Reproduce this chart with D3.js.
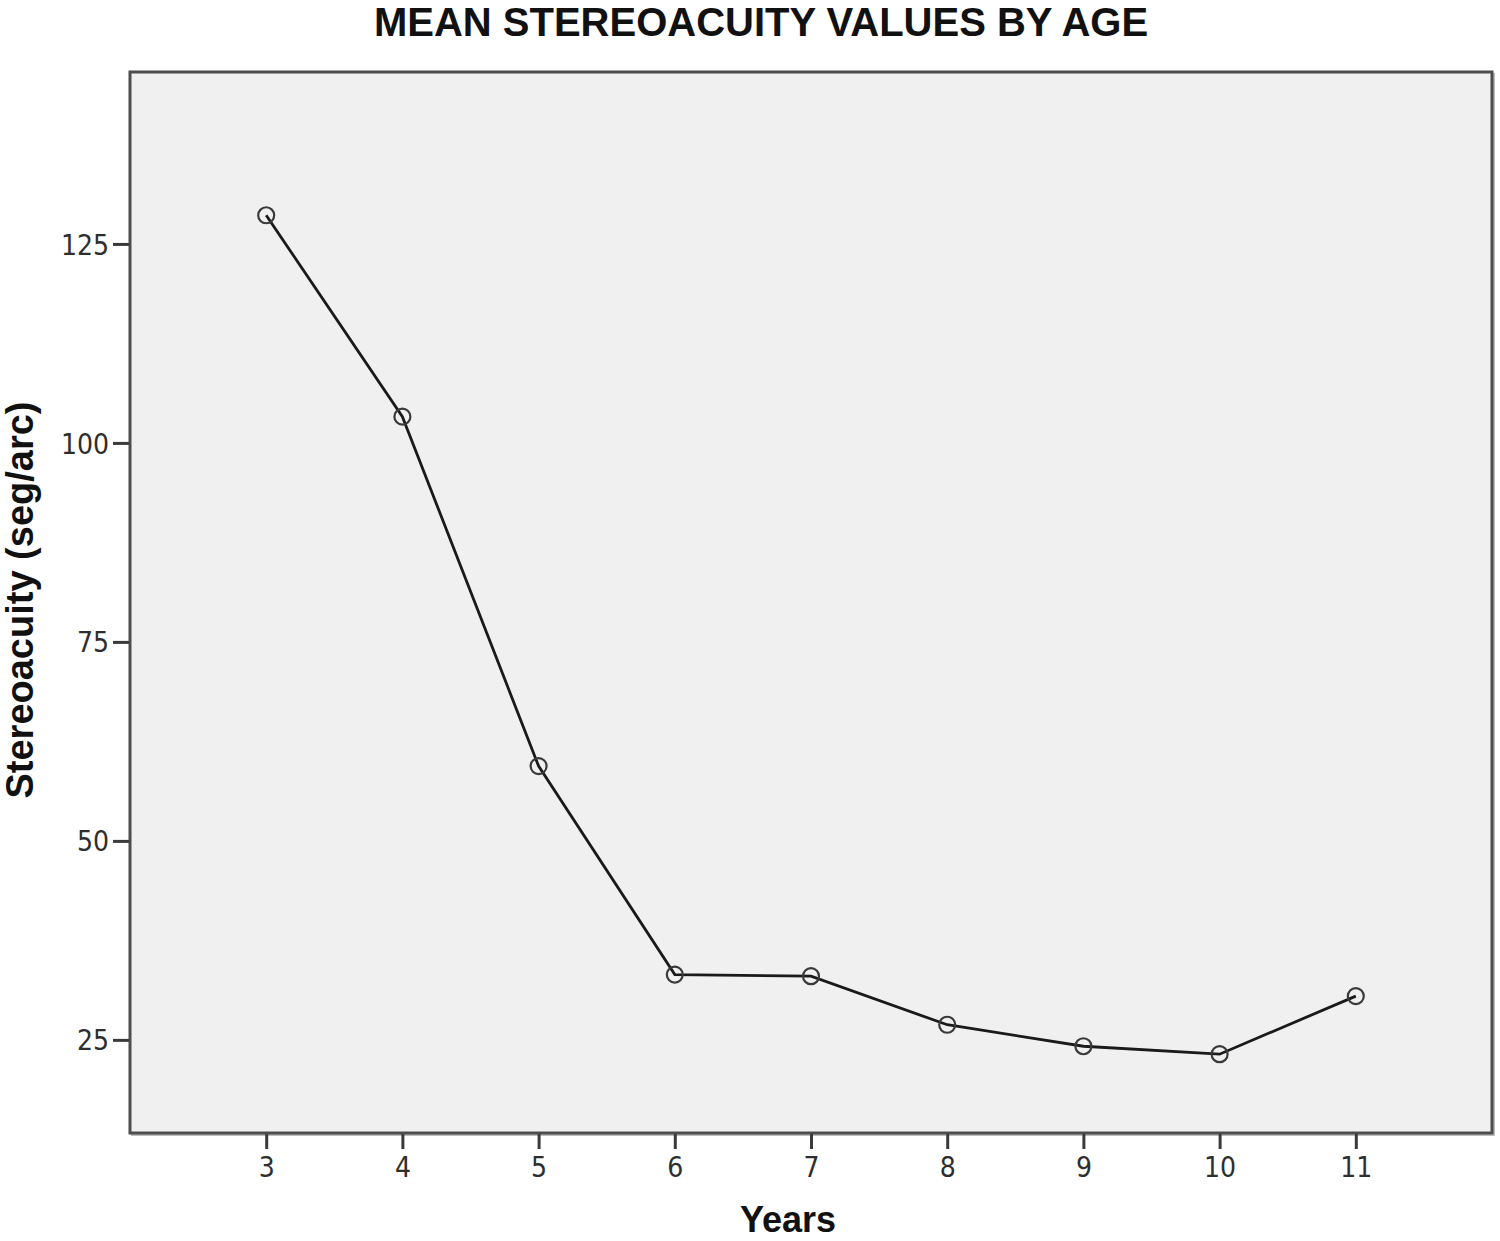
<!DOCTYPE html>
<html>
<head>
<meta charset="utf-8">
<script src="https://cdn.jsdelivr.net/npm/d3@7"></script>
<style>
  body { margin: 0; background: #fff; }
  svg { display: block; }
</style>
</head>
<body>
<div id="chart"></div>
<script>
// mean stereoacuity by age
var ages = [3, 4, 5, 6, 7, 8, 9, 10, 11];
var stereo = [128.6, 103.3, 59.4, 33.2, 33.0, 26.9, 24.2, 23.2, 30.5];
var yTicks = [25, 50, 75, 100, 125];

var width = 1500, height = 1241;
var frame = { left: 130, right: 1492, top: 72, bottom: 1133 };

var svg = d3.select("#chart").append("svg")
  .attr("width", width)
  .attr("height", height);

var x = d3.scaleLinear().domain([2, 12]).range([frame.left, frame.right]);
var y = d3.scaleLinear().domain([13.3, 146.6]).range([frame.bottom, frame.top]);

// plot area
svg.append("rect")
  .attr("x", frame.left + 2)
  .attr("y", frame.top + 2)
  .attr("width", frame.right - frame.left)
  .attr("height", frame.bottom - frame.top)
  .attr("fill", "none")
  .attr("stroke", "#bdbdbd")
  .attr("stroke-width", 2);

svg.append("rect")
  .attr("x", frame.left)
  .attr("y", frame.top)
  .attr("width", frame.right - frame.left)
  .attr("height", frame.bottom - frame.top)
  .attr("fill", "#f0f0f0")
  .attr("stroke", "#4d4d4d")
  .attr("stroke-width", 3);

// axes
var yAxis = d3.axisLeft(y).tickValues(yTicks).tickSize(16).tickPadding(4);
var xAxis = d3.axisBottom(x).tickValues(ages).tickSize(15).tickPadding(6);

var gy = svg.append("g")
  .attr("transform", "translate(" + (frame.left - 1) + ",0)")
  .call(yAxis);
var gx = svg.append("g")
  .attr("transform", "translate(0," + (frame.bottom + 1) + ")")
  .call(xAxis);

[gy, gx].forEach(function(g){
  g.select(".domain").remove();
  g.selectAll(".tick line").attr("stroke", "#3a3a3a").attr("stroke-width", 3);
  g.selectAll(".tick text")
    .attr("fill", "#2e2e2e")
    .style("font-family", "'DejaVu Sans Condensed', 'DejaVu Sans', sans-serif")
    .style("font-size", "28px");
});
gy.selectAll(".tick text").attr("dy", "0.36em");
gx.selectAll(".tick text").attr("dy", "0.78em");

// line + markers
var line = d3.line()
  .x(function(d, i){ return x(ages[i]); })
  .y(function(d){ return y(d); });

svg.append("path")
  .datum(stereo)
  .attr("d", line)
  .attr("fill", "none")
  .attr("stroke", "#1a1a1a")
  .attr("stroke-width", 2.8);

svg.selectAll("circle.pt")
  .data(stereo)
  .join("circle")
  .attr("class", "pt")
  .attr("cx", function(d, i){ return x(ages[i]); })
  .attr("cy", function(d){ return y(d); })
  .attr("r", 8)
  .attr("fill", "none")
  .attr("stroke", "#3a3a3a")
  .attr("stroke-width", 2.2);

// titles
svg.append("text")
  .attr("x", 761)
  .attr("y", 36)
  .attr("text-anchor", "middle")
  .style("font-family", "'Liberation Sans', Arial, sans-serif")
  .style("font-weight", "bold")
  .style("font-size", "40px")
  .attr("fill", "#111")
  .text("MEAN STEREOACUITY VALUES BY AGE");

svg.append("text")
  .attr("x", 788)
  .attr("y", 1232)
  .attr("text-anchor", "middle")
  .style("font-family", "'Liberation Sans', Arial, sans-serif")
  .style("font-weight", "bold")
  .style("font-size", "36px")
  .attr("fill", "#111")
  .text("Years");

svg.append("text")
  .attr("transform", "translate(33,600) rotate(-90)")
  .attr("text-anchor", "middle")
  .style("font-family", "'Liberation Sans', Arial, sans-serif")
  .style("font-weight", "bold")
  .style("font-size", "38px")
  .attr("fill", "#111")
  .text("Stereoacuity (seg/arc)");
</script>
</body>
</html>
